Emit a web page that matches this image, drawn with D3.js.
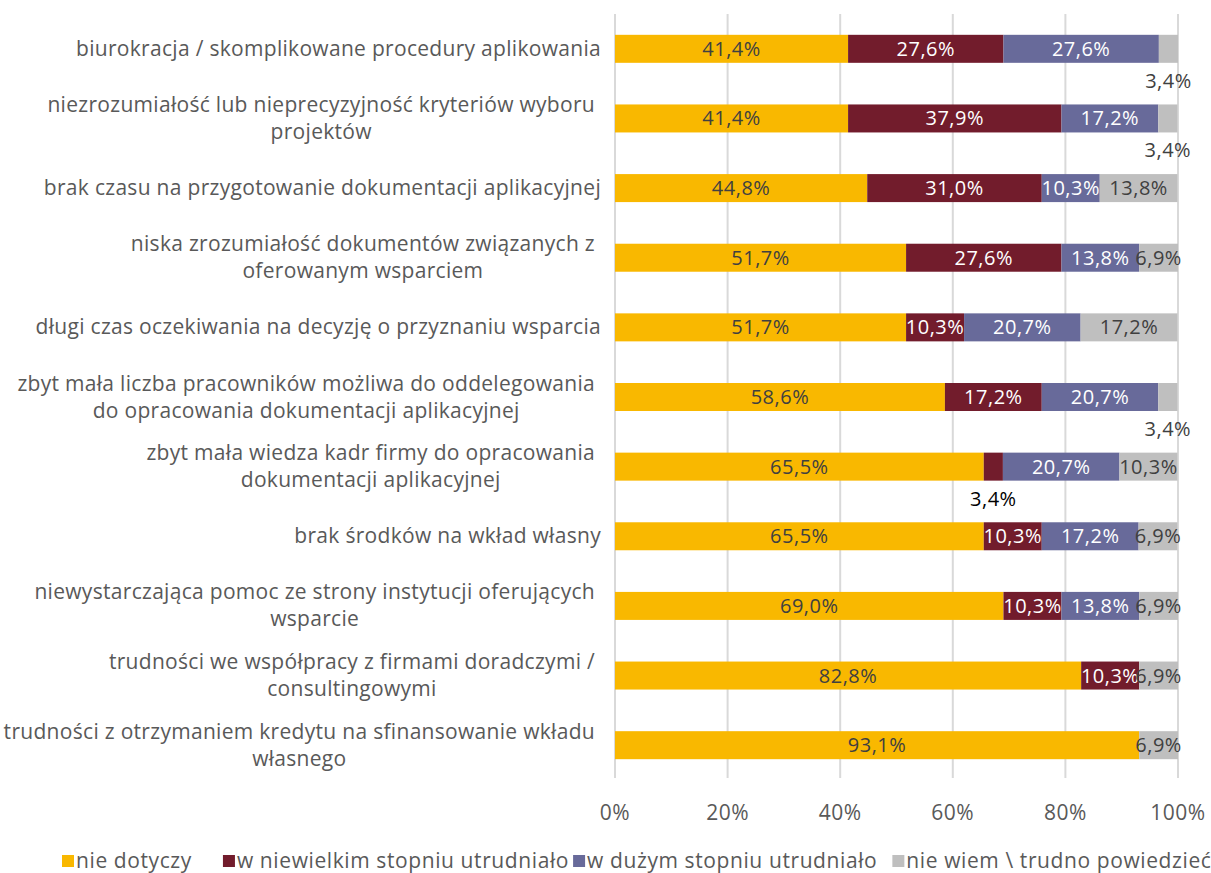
<!DOCTYPE html>
<html><head><meta charset="utf-8">
<script src="https://cdn.jsdelivr.net/npm/d3@7"></script>
<style>
html,body{margin:0;padding:0;background:#fff;}
svg{display:block;font-family:"Open Sans",sans-serif;}
</style></head>
<body><svg id="chart" width="1211" height="873"></svg>
<script>
const categories = [
  ["biurokracja / skomplikowane procedury aplikowania"],
  ["niezrozumiałość lub nieprecyzyjność kryteriów wyboru", "projektów"],
  ["brak czasu na przygotowanie dokumentacji aplikacyjnej"],
  ["niska zrozumiałość dokumentów związanych z", "oferowanym wsparciem"],
  ["długi czas oczekiwania na decyzję o przyznaniu wsparcia"],
  ["zbyt mała liczba pracowników możliwa do oddelegowania", "do opracowania dokumentacji aplikacyjnej"],
  ["zbyt mała wiedza kadr firmy do opracowania", "dokumentacji aplikacyjnej"],
  ["brak środków na wkład własny"],
  ["niewystarczająca pomoc ze strony instytucji oferujących", "wsparcie"],
  ["trudności we współpracy z firmami doradczymi /", "consultingowymi"],
  ["trudności z otrzymaniem kredytu na sfinansowanie wkładu", "własnego"]
];
const seriesNames = ["nie dotyczy", "w niewielkim stopniu utrudniało", "w dużym stopniu utrudniało", "nie wiem \\ trudno powiedzieć"];
const nieDotyczy   = [41.4, 41.4, 44.8, 51.7, 51.7, 58.6, 65.5, 65.5, 69.0, 82.8, 93.1];
const wNiewielkim  = [27.6, 37.9, 31.0, 27.6, 10.3, 17.2, 3.4, 10.3, 10.3, 10.3, 0];
const wDuzym       = [27.6, 17.2, 10.3, 13.8, 20.7, 20.7, 20.7, 17.2, 13.8, 0, 0];
const nieWiem      = [3.4, 3.4, 13.8, 6.9, 17.2, 3.4, 10.3, 6.9, 6.9, 6.9, 6.9];
const tickValues = [0, 20, 40, 60, 80, 100];

const colors = ["#F9B800", "#721C2C", "#686A9A", "#BFBFBF"];
const labelColors = ["#404040", "#FFFFFF", "#FFFFFF", "#404040"];
const belowColors = ["#404040", "#000000", "#000000", "#404040"];

const svg = d3.select("#chart");
const mLeft = 615, mRight = 1178, mTop = 14, mBottom = 780;

const x = d3.scaleLinear().domain([0, 100]).range([mLeft, mRight]);
const y = d3.scaleBand().domain(d3.range(categories.length)).range([mTop, mBottom]).paddingInner(0.6).paddingOuter(0.3);

const rows = categories.map((c, i) => ({i, vals: [nieDotyczy[i], wNiewielkim[i], wDuzym[i], nieWiem[i]]}));

// gridlines
svg.append("g").selectAll("line").data(tickValues).join("line")
  .attr("x1", d => x(d)).attr("x2", d => x(d))
  .attr("y1", mTop).attr("y2", mBottom - 2)
  .attr("stroke", "#D9D9D9").attr("stroke-width", 2);

// bars
const segs = [];
rows.forEach(r => {
  let acc = 0;
  r.vals.forEach((v, s) => {
    if (v > 0) segs.push({row: r.i, s, x0: acc, x1: acc + v, v});
    acc += v;
  });
});
const bh = 28;
svg.append("g").selectAll("rect").data(segs).join("rect")
  .attr("x", d => x(d.x0)).attr("width", d => x(d.x1) - x(d.x0))
  .attr("y", d => y(d.row) + y.bandwidth()/2 - bh/2).attr("height", bh)
  .attr("fill", d => colors[d.s]);

const fmt = v => v.toFixed(1).replace(".", ",") + "%";
// data labels
svg.append("g").selectAll("text").data(segs).join("text")
  .attr("x", d => x((d.x0 + d.x1) / 2))
  .attr("y", d => {
    const cy = y(d.row) + y.bandwidth()/2;
    return d.v < 5 ? cy + 39 : cy + 7;
  })
  .attr("text-anchor", "middle")
  .attr("font-size", 20).attr("letter-spacing", 0.5)
  .attr("fill", d => d.v < 5 ? belowColors[d.s] : labelColors[d.s])
  .text(d => fmt(d.v));

// category labels
const labelRight = 601;
const catG = svg.append("g").attr("font-size", 21).attr("letter-spacing", 0.3).attr("fill", "#595959");
categories.forEach((lines, i) => {
  const cy = y(i) + y.bandwidth()/2;
  if (lines.length === 1) {
    catG.append("text").attr("x", labelRight).attr("y", cy + 7).attr("text-anchor", "end").text(lines[0]);
  } else {
    const t = catG.append("text").attr("text-anchor", "middle");
    const tmp = catG.append("text").text(lines[0]);
    const w = tmp.node().getComputedTextLength();
    tmp.remove();
    const cx = labelRight - 6 - w / 2;
    const lh = 27;
    lines.forEach((ln, k) => {
      t.append("tspan").attr("x", cx).attr("y", cy + 7 + (k - (lines.length - 1)/2) * lh).text(ln);
    });
  }
});

// x axis tick labels
svg.append("g").selectAll("text").data(tickValues).join("text")
  .attr("x", d => x(d)).attr("y", 820)
  .attr("text-anchor", "middle").attr("font-size", 21).attr("letter-spacing", 0.5).attr("fill", "#595959")
  .text(d => d + "%");

// legend
const leg = svg.append("g").attr("font-size", 21).attr("letter-spacing", 0.6).attr("fill", "#595959");
let lx = 62;
const legendGap = [31, 4, 15, 0];
seriesNames.forEach((n, k) => {
  leg.append("rect").attr("x", lx).attr("y", 855).attr("width", 12).attr("height", 12).attr("fill", colors[k]);
  const t = leg.append("text").attr("x", lx + 14).attr("y", 868).text(n);
  lx += 14 + t.node().getComputedTextLength() + legendGap[k];
});
</script></body></html>
